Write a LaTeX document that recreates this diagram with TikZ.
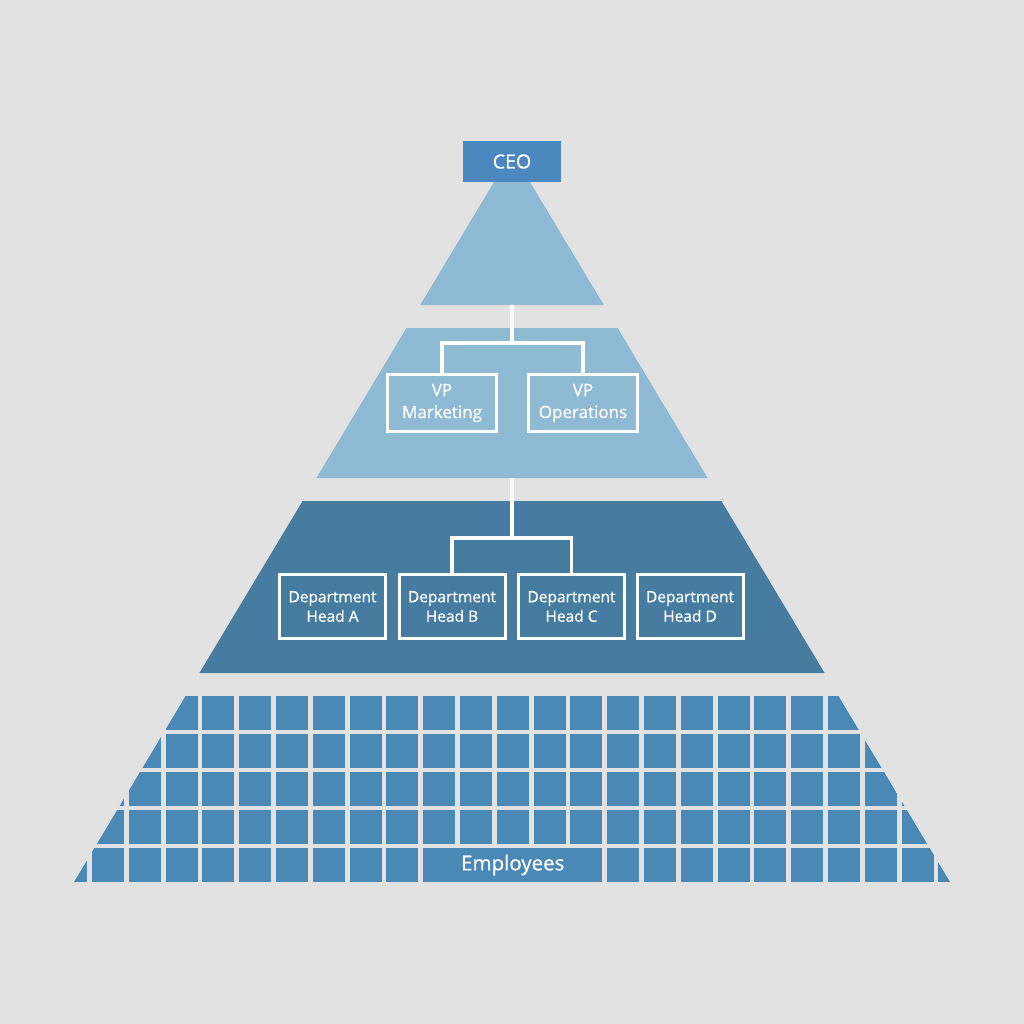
\documentclass[tikz,border=0pt]{standalone}
\usepackage{fontspec}
\setmainfont{Open Sans}[FakeBold=0.5]
\definecolor{bgc}{HTML}{E2E2E2}
\definecolor{lightc}{HTML}{8EBAD3}
\definecolor{ceoc}{HTML}{4A88BF}
\definecolor{deptc}{HTML}{467CA0}
\definecolor{empc}{HTML}{4A88B5}
\begin{document}
\begin{tikzpicture}[x=1pt,y=-1pt,
  conn/.style={draw=white,line width=3.2pt},
  vpbox/.style={draw=white,line width=3pt,minimum width=109pt,minimum height=57pt,inner sep=0pt,
     align=center,text=white,font=\fontsize{17}{22}\selectfont},
  deptbox/.style={draw=white,line width=3pt,minimum width=106pt,minimum height=64pt,inner sep=0pt,
     align=center,text=white,font=\fontsize{15.5}{19.5}\selectfont},
  cell/.style={fill=empc}]
\fill[bgc] (0,0) rectangle (1024,1024);
\useasboundingbox (0,0) rectangle (1024,1024);
% pyramid levels
\fill[lightc] (512,152) -- (603.8,305) -- (420.2,305) -- cycle;
\fill[lightc] (406.4,328) -- (617.6,328) -- (707.6,478) -- (316.4,478) -- cycle;
\fill[deptc] (302.6,501) -- (721.4,501) -- (824.6,673) -- (199.4,673) -- cycle;
% employees grid
\begin{scope}
\clip (185.6,696) -- (838.4,696) -- (950,882) -- (74,882) -- cycle;
\foreach \i in {0,...,3}
  \foreach \j in {-1,...,23}
    \fill[cell] ({92+36.8*\j},{696+38*\i}) rectangle ++(32,33.5);
\foreach \j in {-1,...,8,14,15,...,23}
  \fill[cell] ({92+36.8*\j},848) rectangle ++(32,34);
\end{scope}
\node[fill=empc,minimum width=179.2pt,minimum height=34pt,inner sep=0pt,text=white,
  font=\fontsize{20.5}{24}\selectfont] (emp) at (512.8,865) {Employees};
% CEO
\node[fill=ceoc,minimum width=98pt,minimum height=41pt,inner sep=0pt,text=white,
  font=\fontsize{19.5}{24}\selectfont] (ceo) at (512,161.5) {CEO};
% VP boxes
\node[vpbox] (vpm) at (442,403) {VP\\Marketing};
\node[vpbox] (vpo) at (583,403) {VP\\Operations};
% Department heads
\node[deptbox] (dha) at (332.5,606.5) {Department\\Head A};
\node[deptbox] (dhb) at (452,606.5) {Department\\Head B};
\node[deptbox] (dhc) at (571.5,606.5) {Department\\Head C};
\node[deptbox] (dhd) at (690,606.5) {Department\\Head D};
% connectors
\coordinate (tribot) at (512,305);
\coordinate (b1) at (512,343);
\coordinate (vpbot) at (512,478);
\coordinate (b2) at (512,538);
\draw[conn] (tribot) -- (b1);
\draw[conn] (vpm.north) |- (b1) -| (vpo.north);
\draw[conn] (vpbot) -- (b2);
\draw[conn] (dhb.north) |- (b2) -| (dhc.north);
\end{tikzpicture}
\end{document}
